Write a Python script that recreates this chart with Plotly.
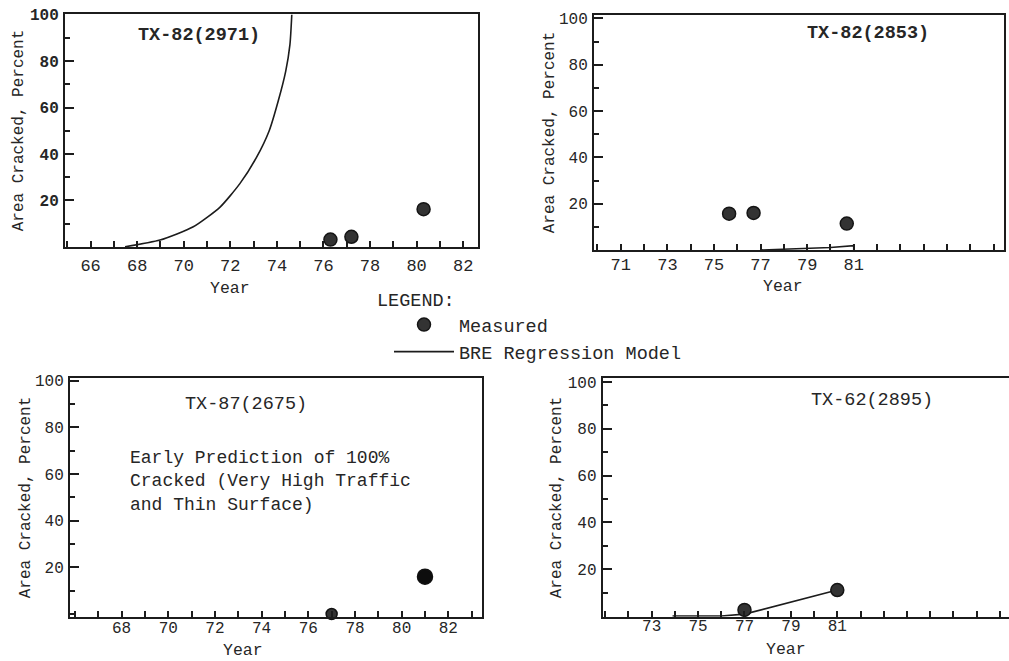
import plotly.graph_objects as go

W, H = 1009, 661
FONT = "Liberation Mono, Courier New, monospace"
INK = "#262626"
LINE = "#1c1c1c"

# ---------------- data ----------------
p1_meas_year = [76.3, 77.2, 80.3]
p1_meas_pct = [3.1, 4.3, 16.2]
p1_model_year = [67.48, 68.98, 70.41, 71.56, 72.41, 73.13, 73.67, 74.06, 74.38, 74.56, 74.64]
p1_model_pct = [0, 2.9, 8.6, 17.1, 27.2, 38.6, 50.0, 62.9, 75.7, 87.1, 100]

p2_meas_year = [75.65, 76.7, 80.7]
p2_meas_pct = [15.7, 16.0, 11.4]
p2_model_year = [77.0, 78.5, 80.0, 81.0, 81.0]
p2_model_pct = [0, 0.4, 1.1, 1.9, 0]

p3_meas_year = [77.0, 81.0]
p3_meas_pct = [0.0, 16.0]

p4_meas_year = [77.0, 81.0]
p4_meas_pct = [2.6, 11.1]
p4_model_year = [73.9, 76.0, 77.0, 81.0]
p4_model_pct = [0, 0, 0.8, 11.1]

p1_xticks = [66, 68, 70, 72, 74, 76, 78, 80, 82]
p2_xticks = [71, 73, 75, 77, 79, 81]
p3_xticks = [68, 70, 72, 74, 76, 78, 80, 82]
p4_xticks = [73, 75, 77, 79, 81]
y_ticks = [20, 40, 60, 80, 100]

panel_titles = ["TX-82(2971)", "TX-82(2853)", "TX-87(2675)", "TX-62(2895)"]
note_lines = ["Early Prediction of 100%", "Cracked (Very High Traffic", "and Thin Surface)"]
x_title = "Year"
y_title = "Area Cracked, Percent"

# ---------------- layout helpers ----------------
def px_x(a, b):
    return [a / W, b / W]

def px_y(top, bottom):
    return [1 - bottom / H, 1 - top / H]

panels = [
    dict(xd=(65, 478.3), yd=(14, 247), xr=[64.9, 82.65], yr=[-0.1, 100.3], xt=p1_xticks, my=True, bold=True, xso=2, xfs=17),
    dict(xd=(594, 1004), yd=(15, 250), xr=[69.85, 87.45], yr=[0, 101.5], xt=p2_xticks, my=True, bold=False, xso=-2, xfs=17),
    dict(xd=(70, 481.7), yd=(378.3, 616.7), xr=[65.79, 83.43], yr=[-1.15, 101], xt=p3_xticks, my=True, bold=False, xso=-5, xfs=16),
    dict(xd=(602.7, 1009), yd=(378.3, 616.7), xr=[70.89, 88.4], yr=[-0.3, 101.6], xt=p4_xticks, my=False, bold=False, xso=-7, xfs=16),
]

fig = go.Figure()

marker_style = dict(color="#333333", size=13, opacity=1, line=dict(color="#151515", width=1.5))
line_style = dict(color=LINE, width=1.6)

# Panel 1
fig.add_trace(go.Scatter(x=p1_model_year, y=p1_model_pct, mode="lines",
                         line=dict(**line_style, shape="spline", smoothing=0.6),
                         name="BRE Regression Model", legendgroup="model", showlegend=True,
                         xaxis="x", yaxis="y", cliponaxis=False, legendrank=2))
fig.add_trace(go.Scatter(x=p1_meas_year, y=p1_meas_pct, mode="markers", marker=marker_style,
                         name="Measured", legendgroup="meas", showlegend=True,
                         xaxis="x", yaxis="y", cliponaxis=False, legendrank=1))
# Panel 2
fig.add_trace(go.Scatter(x=p2_model_year, y=p2_model_pct, mode="lines", line=line_style,
                         name="BRE Regression Model", legendgroup="model", showlegend=False,
                         xaxis="x2", yaxis="y2", cliponaxis=False))
fig.add_trace(go.Scatter(x=p2_meas_year, y=p2_meas_pct, mode="markers", marker=marker_style,
                         name="Measured", legendgroup="meas", showlegend=False,
                         xaxis="x2", yaxis="y2", cliponaxis=False))
# Panel 3
fig.add_trace(go.Scatter(x=p3_meas_year, y=p3_meas_pct, mode="markers",
                         marker=dict(color=["#333333", "#0d0d0d"], size=[11, 15], opacity=1,
                                     line=dict(color="#111111", width=1.5)),
                         name="Measured", legendgroup="meas", showlegend=False,
                         xaxis="x3", yaxis="y3", cliponaxis=False))
# Panel 4
fig.add_trace(go.Scatter(x=p4_model_year, y=p4_model_pct, mode="lines", line=line_style,
                         name="BRE Regression Model", legendgroup="model", showlegend=False,
                         xaxis="x4", yaxis="y4", cliponaxis=False))
fig.add_trace(go.Scatter(x=p4_meas_year, y=p4_meas_pct, mode="markers", marker=marker_style,
                         name="Measured", legendgroup="meas", showlegend=False,
                         xaxis="x4", yaxis="y4", cliponaxis=False))

layout = dict(
    width=W, height=H,
    margin=dict(l=0, r=0, t=0, b=0),
    paper_bgcolor="white", plot_bgcolor="white",
    font=dict(family=FONT, color=INK, size=17),
    showlegend=True,
    legend=dict(
        x=375 / W, y=1 - 282 / H, xanchor="left", yanchor="top",
        title=dict(text="LEGEND:", font=dict(family=FONT, size=18.5, color=INK)),
        font=dict(family=FONT, size=18.5, color=INK),
        bgcolor="rgba(0,0,0,0)", itemwidth=60, tracegroupgap=0,
        traceorder="normal", indentation=14,
    ),
)

y_title_standoff = [2, 0, 0, 2]
for i, p in enumerate(panels):
    sfx = "" if i == 0 else str(i + 1)
    xname, yname = "xaxis" + sfx, "yaxis" + sfx
    xref, yref = "x" + sfx, "y" + sfx
    layout[xname] = dict(
        domain=px_x(*p["xd"]), range=p["xr"], anchor=yref,
        showgrid=False, zeroline=False,
        showline=True, linecolor=LINE, linewidth=2, mirror=True,
        tickmode="array", tickvals=p["xt"], ticktext=[str(v) for v in p["xt"]],
        ticks="inside", ticklen=6, tickwidth=1.5, tickcolor=LINE,
        minor=dict(ticks="inside", ticklen=6, tickwidth=1.5, tickcolor=LINE, dtick=1, tick0=0, showgrid=False),
        tickfont=dict(family=FONT, size=p["xfs"], color=INK),
        ticklabelstandoff=p["xso"], automargin=False, fixedrange=True,
    )
    layout[yname] = dict(
        domain=px_y(*p["yd"]), range=p["yr"], anchor=xref,
        showgrid=False, zeroline=False,
        showline=True, linecolor=LINE, linewidth=2, mirror=p["my"],
        tickmode="array", tickvals=y_ticks, ticktext=[str(v) for v in y_ticks],
        ticks="inside", ticklen=9, tickwidth=1.5, tickcolor=LINE,
        minor=dict(ticks="inside", ticklen=5, tickwidth=1.5, tickcolor=LINE, dtick=10, tick0=0, showgrid=False),
        tickfont=dict(family=FONT, size=16, color=INK, weight="bold" if p["bold"] else "normal"),
        ticklabelstandoff=1,
        title=dict(text=y_title, font=dict(family=FONT, size=16, color=INK), standoff=y_title_standoff[i]),
        automargin=False, fixedrange=True,
    )

fig.update_layout(**layout)

# "Year" axis labels (positioned under each panel as typed in the original)
year_pos = [("x", 72.0, 288), ("x2", 77.96, 286), ("x3", 73.2, 650), ("x4", 78.8, 649)]
for xr, xv, ypx in year_pos:
    fig.add_annotation(text=x_title, xref=xr, yref="paper", x=xv, y=1 - ypx / H,
                       showarrow=False, xanchor="center", yanchor="middle",
                       font=dict(family=FONT, size=16.5, color=INK))

# Panel titles
title_pos = [("x", "y", 70.65, 91.0, True), ("x2", "y2", 81.6, 93.5, True),
             ("x3", "y3", 73.33, 89.9, False), ("x4", "y4", 82.48, 91.9, False)]
for (xr, yr, xv, yv, bold), t in zip(title_pos, panel_titles):
    fig.add_annotation(text=t, xref=xr, yref=yr, x=xv, y=yv, showarrow=False,
                       xanchor="center", yanchor="middle",
                       font=dict(family=FONT, size=18.5, color=INK, weight="bold" if bold else "normal"))

# Note in panel 3 (one paragraph, three typed lines)
fig.add_annotation(text="<br>".join(note_lines), xref="x3", yref="y3", x=68.26, y=56.9,
                   showarrow=False, xanchor="left", yanchor="middle", align="left",
                   font=dict(family=FONT, size=18, color=INK))

fig.write_html("out.html")
